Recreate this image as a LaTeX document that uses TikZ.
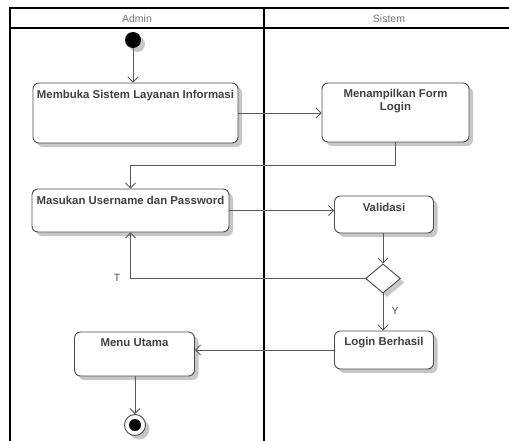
\documentclass[tikz,border=0pt]{standalone}
\usepackage{fontspec}
\setmainfont{Liberation Sans}
\usetikzlibrary{arrows.meta,shapes.geometric,shadows}
\begin{document}
\begin{tikzpicture}[x=1pt,y=-1pt,
  shad/.style={drop shadow={shadow xshift=4pt,shadow yshift=-4pt,fill=black!22,opacity=1}},
  act/.style={draw=black!70, line width=0.9pt, rounded corners=6pt, fill=white, shad, inner sep=0pt},
  lbl/.style={font=\bfseries\fontsize{11.4}{13}\selectfont, text=black!75, inner sep=0pt, align=center},
  hdr/.style={font=\fontsize{10.5}{12}\selectfont, text=black!55, inner sep=0pt},
  flow/.style={draw=black!65, line width=0.9pt, -{Straight Barb[length=5pt,width=10pt,line width=0.9pt]}},
  frame/.style={draw=black, line width=1.6pt},
  guard/.style={font=\fontsize{10.5}{12}\selectfont, text=black!70, inner sep=0pt},
]
\useasboundingbox (0,0) rectangle (509,441);
\fill[white] (0,0) rectangle (509,441);
% swimlanes
\draw[frame] (509,8) -- (10,8) -- (10,441);
\draw[frame] (10,28) -- (509,28);
\draw[frame] (264,8) -- (264,441);
\node[hdr] (hA) at (137,18.5) {Admin};
\node[hdr] (hS) at (389,18.5) {Sistem};
% start
\node[circle, fill=black, minimum size=16pt, inner sep=0pt, shad] (start) at (133,40) {};
% activities
\node[act, minimum width=205pt, minimum height=60pt] (b1) at (135.5,113) {};
\node[lbl] (t1) at (b1.north) [yshift=-13pt] {Membuka Sistem Layanan Informasi};
\node[act, minimum width=147pt, minimum height=59pt] (b2) at (395.5,112.5) {};
\node[lbl] (t2) at (b2.north) [yshift=-18.5pt] {Menampilkan Form\\Login};
\node[act, minimum width=197pt, minimum height=43pt] (b3) at (130.5,210.5) {};
\node[lbl] (t3) at (b3.north) [yshift=-12pt] {Masukan Username dan Password};
\node[act, minimum width=99pt, minimum height=37pt] (val) at (384,214.5) {};
\node[lbl] (t4) at (val.north) [yshift=-12pt] {Validasi};
\node[diamond, draw=black!70, line width=0.9pt, fill=white, shad, minimum width=35pt, minimum height=29pt, inner sep=0pt] (dec) at (383,278.5) {};
\node[act, minimum width=99pt, minimum height=38pt] (login) at (384,350) {};
\node[lbl] (t5) at (login.north) [yshift=-12pt] {Login Berhasil};
\node[act, minimum width=120pt, minimum height=44pt] (menu) at (134.5,354) {};
\node[lbl] (t6) at (menu.north) [yshift=-11pt] {Menu Utama};
% end
\node[circle, draw=black!70, line width=0.9pt, fill=white, minimum size=21pt, inner sep=0pt, shad] (end) at (135,425) {};
\node[circle, fill=black, minimum size=12pt, inner sep=0pt] (endin) at (end.center) {};
% flows
\draw[flow] (start) -- (start |- b1.north);
\draw[flow] (b1.east) -- (b1.east -| b2.west);
\draw[flow] (b2.south) -- ++(0,23) -| (b3.north);
\draw[flow] (b3.east) -- (b3.east -| val.west);
\draw[flow] (dec |- val.south) -- (dec.north);
\draw[flow] (dec.west) -| (b3.south);
\draw[flow] (dec.south) -- (dec |- login.north);
\draw[flow] (login.west) -- (login.west -| menu.east);
\draw[flow] (menu.south -| end) -- (end.north);
\node[guard] (gT) at (117,278) {T};
\node[guard] (gY) at (395,311) {Y};
\end{tikzpicture}
\end{document}
